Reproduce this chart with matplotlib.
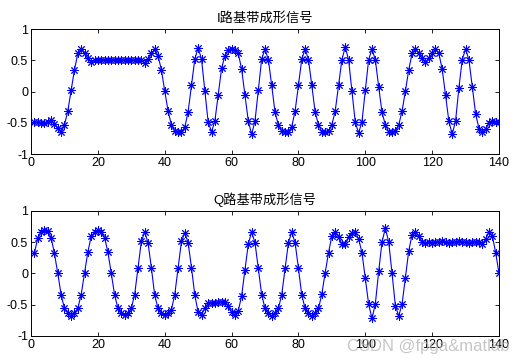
import matplotlib
matplotlib.use("Agg")
import matplotlib.pyplot as plt
import numpy as np

plt.rcParams['font.family'] = ['Liberation Sans', 'Noto Sans CJK SC', 'DejaVu Sans']

title_i = "I路基带成形信号"
title_q = "Q路基带成形信号"
x_ticks = [0, 20, 40, 60, 80, 100, 120, 140]
y_ticks = [-1, -0.5, 0, 0.5, 1]
y_ticklabels = ["-1", "-0.5", "0", "0.5", "1"]

i_signal = [
    -0.49, -0.49, -0.50, -0.50, -0.49, -0.45, -0.52, -0.58, -0.65, -0.53,
    -0.31, 0.02, 0.35, 0.61, 0.68, 0.61, 0.53, 0.47, 0.50, 0.50,
    0.50, 0.51, 0.50, 0.50, 0.51, 0.50, 0.50, 0.50, 0.50, 0.51,
    0.50, 0.50, 0.50, 0.46, 0.52, 0.61, 0.68, 0.57, 0.35, 0.01,
    -0.31, -0.53, -0.63, -0.65, -0.64, -0.57, -0.32, 0.10, 0.52, 0.70,
    0.52, 0.01, -0.49, -0.64, -0.47, -0.05, 0.37, 0.57, 0.67, 0.68,
    0.67, 0.61, 0.36, -0.06, -0.47, -0.68, -0.47, 0.03, 0.52, 0.68,
    0.51, 0.10, -0.33, -0.53, -0.63, -0.65, -0.64, -0.56, -0.31, 0.10,
    0.52, 0.68, 0.51, 0.10, -0.33, -0.53, -0.64, -0.65, -0.63, -0.53,
    -0.31, 0.10, 0.51, 0.71, 0.51, 0.01, -0.49, -0.66, -0.48, 0.02,
    0.51, 0.68, 0.51, 0.08, -0.33, -0.53, -0.64, -0.65, -0.63, -0.53,
    -0.31, 0.01, 0.35, 0.61, 0.68, 0.61, 0.53, 0.47, 0.53, 0.61,
    0.68, 0.61, 0.36, -0.06, -0.47, -0.68, -0.47, 0.06, 0.51, 0.68,
    0.51, 0.08, -0.35, -0.59, -0.65, -0.59, -0.50, -0.47, -0.48, -0.49,
]

q_signal = [
    0.32, 0.56, 0.66, 0.69, 0.68, 0.57, 0.32, 0.00, -0.34, -0.56,
    -0.63, -0.68, -0.64, -0.56, -0.34, 0.00, 0.34, 0.59, 0.66, 0.69,
    0.66, 0.57, 0.34, 0.00, -0.34, -0.56, -0.64, -0.67, -0.64, -0.56,
    -0.34, 0.09, 0.51, 0.66, 0.49, 0.09, -0.35, -0.56, -0.64, -0.67,
    -0.64, -0.58, -0.34, 0.09, 0.51, 0.65, 0.49, 0.09, -0.35, -0.62,
    -0.66, -0.56, -0.48, -0.47, -0.47, -0.46, -0.46, -0.45, -0.52, -0.62,
    -0.66, -0.60, -0.36, 0.05, 0.47, 0.66, 0.49, 0.08, -0.34, -0.56,
    -0.64, -0.68, -0.64, -0.56, -0.34, 0.08, 0.49, 0.66, 0.49, 0.08,
    -0.35, -0.56, -0.64, -0.68, -0.64, -0.56, -0.33, 0.01, 0.33, 0.60,
    0.66, 0.58, 0.47, 0.47, 0.58, 0.64, 0.66, 0.55, 0.33, -0.08,
    -0.49, -0.72, -0.49, 0.03, 0.50, 0.72, 0.50, 0.00, -0.52, -0.68,
    -0.49, -0.07, 0.36, 0.62, 0.66, 0.59, 0.50, 0.48, 0.50, 0.49,
    0.50, 0.50, 0.51, 0.50, 0.49, 0.50, 0.50, 0.51, 0.50, 0.50,
    0.49, 0.50, 0.50, 0.50, 0.47, 0.55, 0.66, 0.60, 0.33, 0.00,
]

n = np.arange(1, len(i_signal) + 1)

fig = plt.figure(figsize=(5.24, 3.59), dpi=100)
fig.patch.set_facecolor('white')

ax1 = fig.add_axes([0.0592, 0.5702, 0.8931, 0.349])
ax2 = fig.add_axes([0.0592, 0.0641, 0.8931, 0.349])

for ax, data, title in [(ax1, i_signal, title_i), (ax2, q_signal, title_q)]:
    ax.plot(n, data, color='#0000ff', linewidth=0.8,
            marker=(8, 2, 0), markersize=6, markeredgewidth=0.7,
            markeredgecolor='#0000ff')
    ax.set_xlim(0, 140)
    ax.set_ylim(-1, 1)
    ax.set_xticks(x_ticks)
    ax.set_yticks(y_ticks)
    ax.set_yticklabels(y_ticklabels)
    ax.tick_params(direction='in', length=3, width=0.6, top=True, right=True,
                   labelsize=9, pad=2, colors='black')
    for s in ax.spines.values():
        s.set_linewidth(0.7)
        s.set_color('black')
    ax.set_title(title, fontsize=9.5, pad=5)

fig.text(0.972, 0.035, "CSDN @fpga&matlab", ha='right', va='center',
         fontsize=12, color='#b4b4b4', alpha=0.75)

fig.savefig("out.png", dpi=100, facecolor='white')
